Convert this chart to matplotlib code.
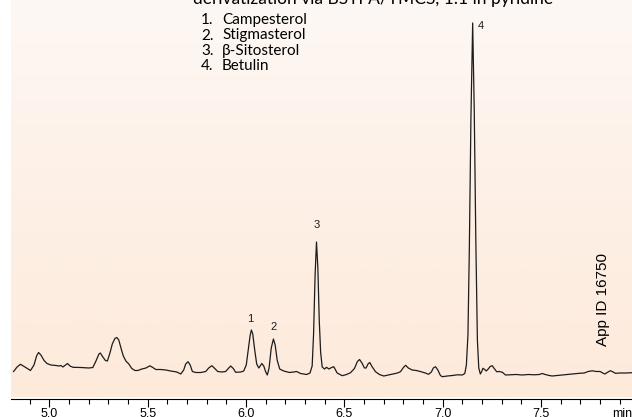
import numpy as np
import matplotlib.pyplot as plt
from matplotlib.colors import LinearSegmentedColormap
from matplotlib.ticker import MultipleLocator

# retention time (min) and detector signal
time_min = [
    4.818, 4.836, 4.853, 4.876, 4.904, 4.922, 4.935, 4.945, 4.957, 4.973,
    4.988, 5.008, 5.034, 5.049, 5.059, 5.069, 5.082, 5.092, 5.105, 5.120,
    5.160, 5.201, 5.221, 5.237, 5.252, 5.259, 5.272, 5.285, 5.295, 5.308,
    5.320, 5.333, 5.343, 5.353, 5.364, 5.376, 5.389, 5.404, 5.419, 5.435,
    5.450, 5.470, 5.491, 5.511, 5.526, 5.541, 5.567, 5.592, 5.617, 5.648,
    5.668, 5.683, 5.693, 5.705, 5.716, 5.727, 5.744, 5.770, 5.795, 5.810,
    5.826, 5.841, 5.856, 5.876, 5.896, 5.912, 5.922, 5.935, 5.947, 5.973,
    5.988, 6.001, 6.011, 6.021, 6.027, 6.034, 6.044, 6.054, 6.065, 6.080,
    6.090, 6.100, 6.108, 6.117, 6.128, 6.139, 6.148, 6.158, 6.171, 6.191,
    6.221, 6.242, 6.257, 6.277, 6.308, 6.325, 6.336, 6.343, 6.351, 6.358,
    6.365, 6.372, 6.379, 6.387, 6.399, 6.409, 6.421, 6.433, 6.446, 6.455,
    6.463, 6.489, 6.511, 6.531, 6.551, 6.566, 6.577, 6.589, 6.602, 6.610,
    6.620, 6.629, 6.640, 6.658, 6.678, 6.700, 6.724, 6.749, 6.770, 6.785,
    6.800, 6.811, 6.825, 6.844, 6.866, 6.886, 6.911, 6.928, 6.942, 6.952,
    6.963, 6.975, 6.988, 6.998, 7.023, 7.049, 7.074, 7.099, 7.112, 7.120,
    7.128, 7.135, 7.143, 7.152, 7.160, 7.168, 7.176, 7.183, 7.191, 7.198,
    7.204, 7.213, 7.221, 7.231, 7.241, 7.251, 7.262, 7.274, 7.287, 7.303,
    7.319, 7.343, 7.374, 7.404, 7.435, 7.465, 7.490, 7.506, 7.521, 7.541,
    7.556, 7.582, 7.607, 7.633, 7.663, 7.694, 7.719, 7.739, 7.760, 7.780,
    7.800, 7.813, 7.824, 7.836, 7.852, 7.866, 7.878, 7.901, 7.932, 7.962,
]
signal = [
    28.5, 33.0, 35.7, 33.0, 29.5, 35.0, 44.0, 47.5, 45.0, 39.5,
    36.5, 35.0, 34.5, 34.0, 34.5, 33.0, 35.0, 36.5, 34.0, 32.7,
    32.5, 32.0, 32.5, 39.0, 46.0, 47.0, 43.0, 39.5, 39.0, 47.0,
    56.0, 61.5, 62.5, 60.0, 52.0, 44.0, 39.0, 36.0, 31.5, 29.5,
    29.5, 31.0, 32.0, 34.2, 32.5, 30.5, 30.5, 30.0, 29.0, 28.0,
    26.0, 30.0, 36.0, 38.3, 35.0, 28.5, 27.5, 27.5, 28.5, 32.0,
    34.3, 31.5, 28.5, 28.0, 28.5, 32.0, 34.0, 31.5, 27.7, 28.0,
    29.0, 35.0, 50.0, 65.0, 70.0, 66.0, 50.0, 36.0, 32.0, 36.5,
    34.0, 28.0, 25.0, 32.0, 52.0, 61.0, 55.0, 40.0, 31.0, 29.0,
    27.5, 28.0, 28.5, 26.5, 25.5, 27.0, 34.0, 65.0, 125.0, 158.0,
    132.0, 80.0, 48.0, 33.0, 31.0, 32.7, 31.0, 32.3, 33.3, 30.0,
    27.0, 24.3, 25.5, 27.3, 31.5, 38.5, 40.5, 37.0, 32.0, 32.0,
    36.0, 37.5, 33.5, 28.3, 25.5, 24.0, 25.0, 26.0, 27.0, 28.3,
    32.5, 34.7, 32.0, 30.0, 29.5, 28.5, 27.0, 25.7, 28.0, 32.0,
    33.3, 30.0, 24.5, 23.3, 24.0, 24.5, 25.2, 25.0, 26.5, 35.0,
    65.0, 150.0, 280.0, 377.0, 290.0, 160.0, 60.0, 32.0, 26.0, 28.5,
    31.7, 30.5, 29.0, 31.0, 33.5, 34.3, 31.5, 28.3, 28.5, 27.7,
    25.0, 25.2, 25.5, 25.0, 25.5, 25.2, 25.5, 26.5, 25.5, 24.5,
    24.0, 24.5, 25.0, 25.5, 26.0, 26.7, 27.0, 28.5, 29.2, 28.5,
    28.5, 27.0, 26.0, 27.5, 29.3, 28.0, 26.7, 27.0, 27.0, 27.3,
]

peak_labels = ["1", "2", "3", "4"]
peak_times = [6.027, 6.139, 6.358, 7.152]
# label offsets in points (dx, dy) from each peak apex, plus alignment
peak_offsets = [(-1, 4), (0, 5), (0, 9), (4, -6)]
peak_ha = ["center", "center", "center", "left"]

compounds = ["Campesterol", "Stigmasterol", "β-Sitosterol", "Betulin"]
subtitle = "derivatization via BSTFA/TMCS, 1:1 in pyridine"
app_id = "App ID 16750"

x_major = [5.0, 5.5, 6.0, 6.5, 7.0, 7.5]

W, H = 632, 417
fig = plt.figure(figsize=(W / 100, H / 100), dpi=100)
ax = fig.add_axes([11 / W, 20 / H, (W - 11) / W, (H - 20) / H])

# soft peach background fading lighter toward the top
bg = LinearSegmentedColormap.from_list("peach", ["#fdeadb", "#fdf0e6", "#fef8f4"])
ax.patch.set_visible(False)
ax.imshow(np.linspace(0, 1, 256).reshape(-1, 1), cmap=bg, origin="lower",
          aspect="auto", extent=[0, 1, 0, 1], transform=ax.transAxes, zorder=0)

ax.plot(time_min, signal, color="#1c1c1c", lw=0.9, zorder=2)

ax.set_xlim(4.805, 7.962)
ax.set_ylim(3, 400)

for lab, t, (dx, dy), ha in zip(peak_labels, peak_times, peak_offsets, peak_ha):
    h = np.interp(t, time_min, signal)
    ax.annotate(lab, (t, h), xytext=(dx, dy), textcoords="offset points",
                ha=ha, va="bottom", fontsize=8, family="Liberation Sans",
                color="#1c1c1c")

# numbered compound list, upper middle
sans = ["Lato", "DejaVu Sans"]
for i, name in enumerate(compounds):
    y = 1 - (20 + i * 15.5) / H
    fig.text(201 / W, y, f"{i + 1}.", fontsize=11, family=sans,
             va="center", ha="left")
    fig.text(222 / W, y, name, fontsize=11, family=sans,
             va="center", ha="left")

fig.text(373 / W, 1 + 1 / H, subtitle, fontsize=12.5, family=sans,
         ha="center", va="center")

fig.text(603 / W, 1 - 300 / H, app_id, rotation=90, fontsize=11,
         family="Liberation Sans", ha="center", va="center")

for s in ["top", "left", "right"]:
    ax.spines[s].set_visible(False)
ax.spines["bottom"].set_position(("outward", 1.2))
ax.spines["bottom"].set_linewidth(0.8)
ax.set_yticks([])
ax.set_xticks(x_major)
ax.set_xticklabels([f"{v:.1f}" for v in x_major])
ax.xaxis.set_minor_locator(MultipleLocator(0.1))
ax.tick_params(axis="x", which="major", length=5.5, width=0.8, pad=1,
               labelsize=9)
ax.tick_params(axis="x", which="minor", length=3.6, width=0.8)
for lbl in ax.get_xticklabels():
    lbl.set_family("Liberation Sans")
ax.annotate("min", (7.912, 0), xycoords=ax.get_xaxis_transform(),
            xytext=(0, -(1.2 + 5.5 + 1)), textcoords="offset points",
            fontsize=9, family="Liberation Sans", ha="center", va="top")

fig.savefig("out.png", dpi=100)
